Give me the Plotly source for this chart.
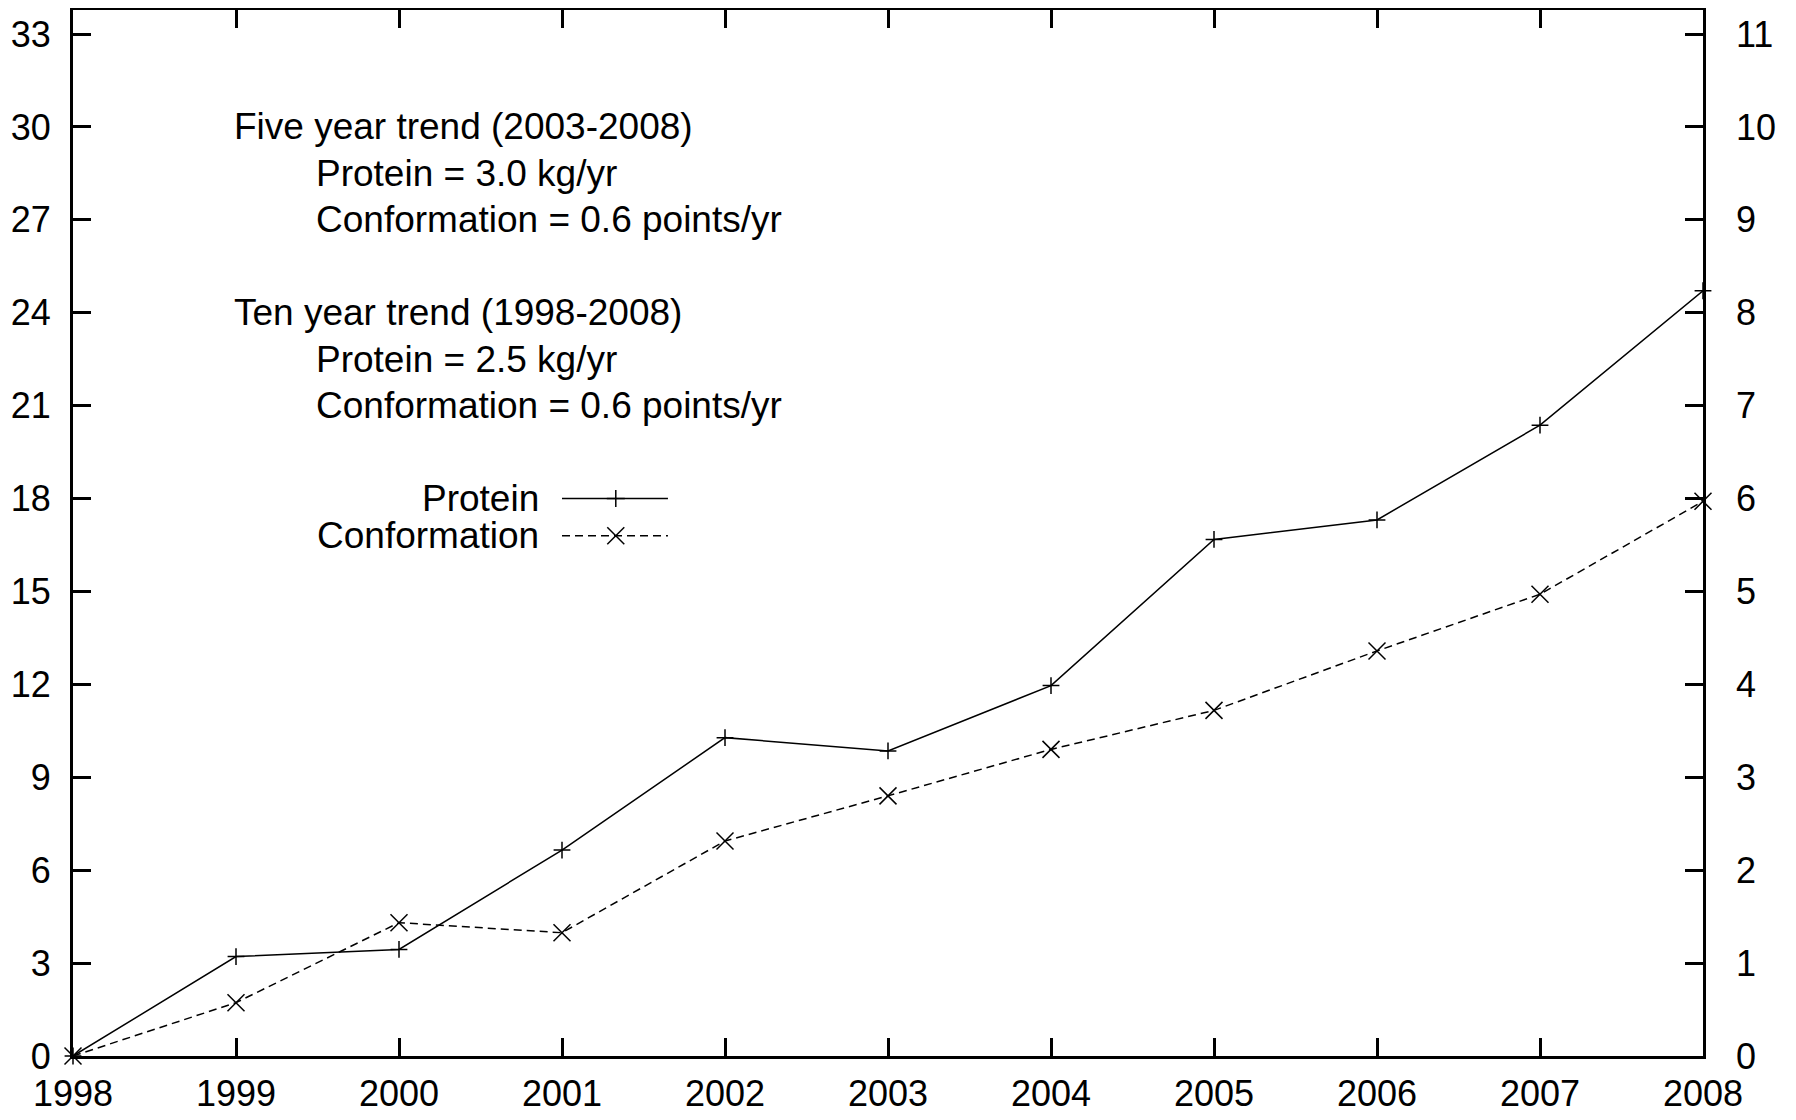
import plotly.graph_objects as go

years = [1998, 1999, 2000, 2001, 2002, 2003, 2004, 2005, 2006, 2007, 2008]
protein = [0.0, 3.21, 3.44, 6.65, 10.28, 9.85, 11.96, 16.68, 17.31, 20.37, 24.71]
conformation = [0.0, 0.574, 1.435, 1.327, 2.314, 2.80, 3.30, 3.72, 4.36, 4.97, 5.97]

left_ticks = list(range(0, 34, 3))
right_ticks = list(range(0, 12, 1))
year_ticks = years

notes = [
    (1999.0, 30.0, "Five year trend (2003-2008)"),
    (1999.5, 28.5, "Protein = 3.0 kg/yr"),
    (1999.5, 27.0, "Conformation = 0.6 points/yr"),
    (1999.0, 24.0, "Ten year trend (1998-2008)"),
    (1999.5, 22.5, "Protein = 2.5 kg/yr"),
    (1999.5, 21.0, "Conformation = 0.6 points/yr"),
]

FONT = "Liberation Sans, Arial, sans-serif"
FS_TICK = 36
FS_TEXT = 37
DASH = "8px,5px"
Y_TOP = 33.775

fig = go.Figure()
fig.add_trace(go.Scatter(
    x=years, y=protein, mode="lines+markers", name="Protein",
    line=dict(color="black", width=1.5),
    marker=dict(symbol="cross-thin", size=12, line=dict(color="black", width=1.5)),
    yaxis="y", cliponaxis=False, showlegend=False,
))
fig.add_trace(go.Scatter(
    x=years, y=conformation, mode="lines+markers", name="Conformation",
    line=dict(color="black", width=1.5, dash=DASH),
    marker=dict(symbol="x-thin", size=17, line=dict(color="black", width=1.5)),
    yaxis="y2", cliponaxis=False, showlegend=False,
))

axis_common = dict(
    ticks="inside", ticklen=18, tickwidth=3, tickcolor="black",
    showgrid=False, zeroline=False,
    tickfont=dict(family=FONT, size=FS_TICK, color="black"),
)

fig.update_layout(
    width=1788, height=1112,
    margin=dict(l=65, r=93, t=2, b=64, autoexpand=False),
    paper_bgcolor="white", plot_bgcolor="white",
    font=dict(family=FONT, size=FS_TICK, color="black"),
    xaxis=dict(range=[1998, 2008], tickvals=year_ticks,
               ticktext=[str(y) for y in year_ticks],
               showline=True, linewidth=3, linecolor="black", mirror="ticks",
               ticklabelstandoff=4, **axis_common),
    yaxis=dict(range=[0, Y_TOP], tickvals=left_ticks,
               showline=True, linewidth=3, linecolor="black", mirror="ticks",
               ticklabelstandoff=12, **axis_common),
    yaxis2=dict(range=[0, Y_TOP / 3], tickvals=right_ticks, overlaying="y",
                side="right", showline=False, ticklabelstandoff=32,
                **axis_common),
)

for x, y, t in notes:
    fig.add_annotation(x=x, y=y, xref="x", yref="y", text=t, showarrow=False,
                       xanchor="left", yanchor="middle", xshift=-4,
                       font=dict(family=FONT, size=FS_TEXT, color="black"))

# legend (text on the left, sample on the right, as in the reference)
legend_items = [("Protein", 18.0, "solid", "plus"), ("Conformation", 16.8, DASH, "x")]
lx_text, lx0, lx1, lxm = 2000.85, 2001.0, 2001.65, 2001.33
for name, ly, dash, sym in legend_items:
    fig.add_annotation(x=lx_text, y=ly, xref="x", yref="y", text=name,
                       showarrow=False, xanchor="right", yanchor="middle",
                       xshift=3,
                       font=dict(family=FONT, size=FS_TEXT, color="black"))
    fig.add_shape(type="line", xref="x", yref="y", x0=lx0, x1=lx1, y0=ly, y1=ly,
                  line=dict(color="black", width=1.5, dash=dash))
    if sym == "plus":
        segs = [(-9, 0, 9, 0), (0, -8.5, 0, 8.5)]
    else:
        segs = [(-8.5, -8.5, 8.5, 8.5), (-8.5, 8.5, 8.5, -8.5)]
    for a, b, c, d in segs:
        fig.add_shape(type="line", xref="x", yref="y",
                      xsizemode="pixel", ysizemode="pixel",
                      xanchor=lxm, yanchor=ly, x0=a, y0=b, x1=c, y1=d,
                      line=dict(color="black", width=1.5))

fig.write_html("out.html")
